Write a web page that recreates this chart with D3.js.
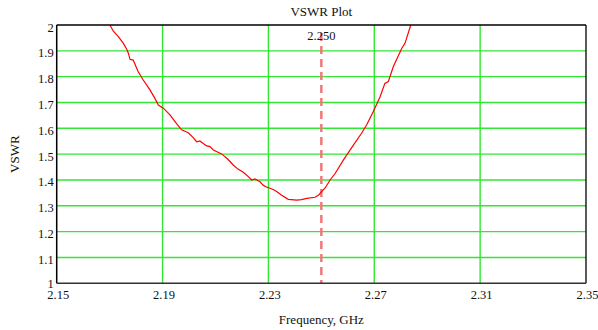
<!DOCTYPE html>
<html>
<head>
<meta charset="utf-8">
<title>VSWR Plot</title>
<script src="https://d3js.org/d3.v7.min.js"></script>
<style>
    body { margin: 0; background: white; }
    text { font-family: "Liberation Serif", "Times New Roman", serif; fill: #111; }
    .tick-label { font-size: 12.5px; }
    .title { font-size: 13px; }
    .axis-title { font-size: 13px; }
    .marker-label { font-size: 12.5px; }
</style>
</head>
<body>
<script>
    var width = 598, height = 330;
    var margin = {top: 25, right: 12, bottom: 46.7, left: 56.7};

    var freq = [2.1701, 2.1714, 2.1733, 2.1752, 2.1765, 2.1771, 2.1777, 2.1789, 2.1808, 2.1827,
                2.1853, 2.1871, 2.1884, 2.1903, 2.1928, 2.1950, 2.1972, 2.1997, 2.2015, 2.2029,
                2.2041, 2.2055, 2.2067, 2.2079, 2.2092, 2.2123, 2.2145, 2.2167, 2.2185, 2.2205,
                2.2225, 2.2237, 2.2249, 2.2268, 2.2281, 2.2293, 2.2318, 2.2331, 2.2350, 2.2375,
                2.2407, 2.2425, 2.2445, 2.2476, 2.2490, 2.2501, 2.2515, 2.2533, 2.2552, 2.2583,
                2.2621, 2.2652, 2.2671, 2.2696, 2.2722, 2.2740, 2.2753, 2.2772, 2.2804, 2.2816,
                2.2838];
    var vswr = [2.000, 1.976, 1.955, 1.929, 1.905, 1.890, 1.867, 1.864, 1.819, 1.787,
                1.748, 1.716, 1.690, 1.678, 1.652, 1.622, 1.594, 1.583, 1.565, 1.548,
                1.551, 1.540, 1.532, 1.529, 1.516, 1.501, 1.482, 1.458, 1.442, 1.430,
                1.412, 1.400, 1.404, 1.393, 1.379, 1.373, 1.363, 1.355, 1.341, 1.325,
                1.322, 1.324, 1.329, 1.333, 1.342, 1.355, 1.370, 1.400, 1.425, 1.477,
                1.535, 1.581, 1.613, 1.664, 1.722, 1.774, 1.781, 1.839, 1.910, 1.929,
                2.000];

    var xTicks = [2.15, 2.19, 2.23, 2.27, 2.31, 2.35];
    var yTicks = [1, 1.1, 1.2, 1.3, 1.4, 1.5, 1.6, 1.7, 1.8, 1.9, 2];
    var marker = 2.25;

    var x = d3.scaleLinear().domain([2.15, 2.35]).range([margin.left, width - margin.right]);
    var y = d3.scaleLinear().domain([1, 2]).range([height - margin.bottom, margin.top]);

    var svg = d3.select("body").append("svg")
                .attr("width", width).attr("height", height);

    // grid
    svg.append("g").selectAll("line").data(yTicks.slice(1, -1)).enter().append("line")
        .attr("x1", x(2.15)).attr("x2", x(2.35))
        .attr("y1", function(d){ return y(d); }).attr("y2", function(d){ return y(d); })
        .attr("stroke", "#33e633").attr("stroke-width", 1.4);
    svg.append("g").selectAll("line").data(xTicks.slice(1, -1)).enter().append("line")
        .attr("y1", y(1)).attr("y2", y(2))
        .attr("x1", function(d){ return x(d); }).attr("x2", function(d){ return x(d); })
        .attr("stroke", "#33e633").attr("stroke-width", 1.4);

    // marker
    svg.append("line")
        .attr("x1", x(marker)).attr("x2", x(marker))
        .attr("y1", y(2) + 8).attr("y2", y(1))
        .attr("stroke", "#f07878").attr("stroke-width", 2.5)
        .attr("stroke-dasharray", "8,5");
    svg.append("text").classed("marker-label", true)
        .attr("x", x(marker)).attr("y", y(2) + 15)
        .attr("text-anchor", "middle")
        .text(d3.format(".3f")(marker));

    // curve
    var pts = freq.map(function(f, i){ return [f, vswr[i]]; });
    svg.append("path").datum(pts)
        .attr("fill", "none").attr("stroke", "#ff0000").attr("stroke-width", 1.2)
        .attr("d", d3.line().x(function(d){ return x(d[0]); }).y(function(d){ return y(d[1]); }));

    // frame
    svg.append("line").attr("x1", x(2.15)).attr("x2", x(2.35)).attr("y1", y(2)).attr("y2", y(2))
        .attr("stroke", "#000").attr("stroke-width", 1.3);
    svg.append("line").attr("x1", x(2.35)).attr("x2", x(2.35)).attr("y1", y(2)).attr("y2", y(1))
        .attr("stroke", "#000").attr("stroke-width", 1.3);
    svg.append("line").attr("x1", x(2.15)).attr("x2", x(2.15)).attr("y1", y(2)).attr("y2", y(1))
        .attr("stroke", "#000").attr("stroke-width", 1.5);
    svg.append("line").attr("x1", x(2.15)).attr("x2", x(2.35)).attr("y1", y(1)).attr("y2", y(1))
        .attr("stroke", "#333").attr("stroke-width", 1.5);

    // tick labels
    svg.append("g").selectAll("text").data(yTicks).enter().append("text")
        .classed("tick-label", true)
        .attr("x", margin.left - 3)
        .attr("y", function(d){ return y(d) + (d === 1 ? 5 : 6.5); })
        .attr("text-anchor", "end")
        .text(function(d){ return d3.format("")(d); });
    svg.append("g").selectAll("text").data(xTicks).enter().append("text")
        .classed("tick-label", true)
        .attr("x", function(d){ return x(d) + 1.5; })
        .attr("y", y(1) + 16)
        .attr("text-anchor", "middle")
        .text(function(d){ return d3.format(".2f")(d); });

    // titles
    svg.append("text").classed("title", true)
        .attr("x", (x(2.15) + x(2.35)) / 2).attr("y", 16)
        .attr("text-anchor", "middle").text("VSWR Plot");
    svg.append("text").classed("axis-title", true)
        .attr("x", (x(2.15) + x(2.35)) / 2).attr("y", 324)
        .attr("text-anchor", "middle").text("Frequency, GHz");
    svg.append("text").classed("axis-title", true)
        .attr("transform", "translate(19," + (y(1.5)) + ") rotate(-90)")
        .attr("text-anchor", "middle").text("VSWR");
</script>
</body>
</html>
